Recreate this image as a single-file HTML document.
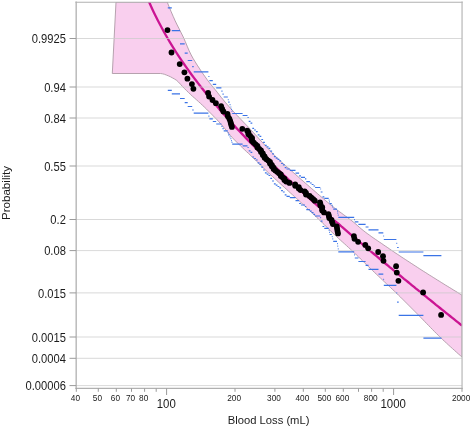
<!DOCTYPE html>
<html><head><meta charset="utf-8"><title>Blood Loss Probability Plot</title>
<style>
html,body{margin:0;padding:0;background:#fff}
body{width:472px;height:428px;overflow:hidden}
.t{font-family:"Liberation Sans",sans-serif;fill:#1c1c1c}
</style></head><body>
<svg width="472" height="428" viewBox="0 0 472 428" style="display:block">
<rect width="472" height="428" fill="#fff"/>
<defs><clipPath id="c"><rect x="76" y="2" width="386" height="386.5"/></clipPath></defs>
<g clip-path="url(#c)">
<path d="M116.0,2.0 L112.3,73.5 L160.5,73.5 L162.5,73.8 L164.5,74.3 L166.5,75.1 L168.5,75.9 L170.5,76.8 L172.5,77.9 L174.5,79.0 L176.5,80.3 L178.5,82.1 L180.5,84.3 L182.5,86.5 L184.5,88.6 L186.5,90.6 L188.5,92.5 L190.5,94.4 L192.5,96.3 L194.5,98.0 L196.5,99.8 L198.5,101.6 L200.5,103.4 L202.5,105.3 L204.5,107.2 L206.5,109.1 L208.5,111.1 L210.5,113.1 L212.5,115.1 L214.5,117.2 L216.5,119.2 L218.5,121.4 L220.5,123.6 L222.5,125.9 L224.5,128.3 L226.5,130.7 L228.5,133.2 L230.5,135.5 L232.5,137.8 L234.5,139.9 L236.5,141.9 L238.5,143.9 L240.5,145.9 L242.5,147.8 L244.5,149.7 L246.5,151.6 L248.5,153.4 L250.5,155.3 L252.5,157.3 L254.5,159.2 L256.5,161.2 L258.5,163.1 L260.5,165.1 L262.5,167.0 L264.5,169.0 L266.5,170.9 L268.5,172.8 L270.5,174.7 L272.5,176.5 L274.5,178.4 L276.5,180.2 L278.5,182.1 L280.5,183.9 L282.5,185.7 L284.5,187.5 L286.5,189.3 L288.5,191.2 L290.5,193.0 L292.5,194.8 L294.5,196.6 L296.5,198.4 L298.5,200.2 L300.5,202.1 L302.5,203.9 L304.5,205.8 L306.5,207.7 L308.5,209.6 L310.5,211.5 L312.5,213.3 L314.5,215.2 L316.5,217.2 L318.5,219.1 L320.5,221.0 L322.5,223.0 L324.5,224.9 L326.5,226.9 L328.5,228.9 L330.5,230.8 L332.5,232.7 L334.5,234.6 L336.5,236.5 L338.5,238.4 L340.5,240.2 L342.5,242.0 L344.5,243.8 L346.5,245.6 L348.5,247.5 L350.5,249.3 L352.5,251.2 L354.5,253.0 L356.5,255.0 L358.5,256.9 L360.5,258.9 L362.5,260.8 L364.5,262.8 L366.5,264.7 L368.5,266.6 L370.5,268.6 L372.5,270.5 L374.5,272.4 L376.5,274.3 L378.5,276.2 L380.5,278.1 L382.5,280.0 L384.5,281.9 L386.5,283.8 L388.5,285.6 L390.5,287.5 L392.5,289.4 L394.5,291.3 L396.5,293.2 L398.5,295.2 L400.5,297.1 L402.5,299.1 L404.5,301.1 L406.5,303.1 L408.5,305.1 L410.5,307.1 L412.5,309.1 L414.5,311.1 L416.5,313.1 L418.5,315.1 L420.5,317.2 L422.5,319.2 L424.5,321.3 L426.5,323.4 L428.5,325.4 L430.5,327.5 L432.5,329.5 L434.5,331.6 L436.5,333.6 L438.5,335.5 L440.5,337.5 L442.5,339.4 L444.5,341.3 L446.5,343.1 L448.5,345.0 L450.5,346.8 L452.5,348.6 L454.5,350.4 L456.5,352.2 L458.5,354.0 L460.5,355.7 L462.0,357.0 L462.0,357.0 L462.0,295.2 L461.2,294.7 L459.2,293.5 L457.2,292.2 L455.2,291.0 L453.2,289.8 L451.2,288.5 L449.2,287.3 L447.2,286.1 L445.2,284.9 L443.2,283.6 L441.2,282.4 L439.2,281.1 L437.2,279.9 L435.2,278.6 L433.2,277.4 L431.2,276.1 L429.2,274.9 L427.2,273.6 L425.2,272.3 L423.2,271.1 L421.2,269.8 L419.2,268.5 L417.2,267.2 L415.2,265.9 L413.2,264.6 L411.2,263.3 L409.2,262.0 L407.2,260.7 L405.2,259.4 L403.2,258.1 L401.2,256.8 L399.2,255.4 L397.2,254.1 L395.2,252.8 L393.2,251.4 L391.2,250.1 L389.2,248.7 L387.2,247.3 L385.2,246.0 L383.2,244.6 L381.2,243.2 L379.2,241.9 L377.2,240.5 L375.2,239.2 L373.2,237.8 L371.2,236.4 L369.2,234.9 L367.2,233.5 L365.2,232.0 L363.2,230.4 L361.2,228.8 L359.2,227.1 L357.2,225.3 L355.2,223.5 L353.2,221.9 L351.2,220.3 L349.2,218.8 L347.2,217.3 L345.2,215.9 L343.2,214.4 L341.2,212.9 L339.2,211.5 L337.2,210.0 L335.2,208.5 L333.2,206.9 L331.2,205.3 L329.2,203.6 L327.2,201.9 L325.2,200.3 L323.2,198.5 L321.2,196.8 L319.2,195.1 L317.2,193.4 L315.2,191.6 L313.2,189.9 L311.2,188.2 L309.2,186.4 L307.2,184.7 L305.2,183.0 L303.2,181.2 L301.2,179.5 L299.2,177.7 L297.2,175.9 L295.2,174.2 L293.2,172.4 L291.2,170.6 L289.2,168.8 L287.2,167.1 L285.2,165.3 L283.2,163.5 L281.2,161.7 L279.2,159.8 L277.2,158.0 L275.2,156.0 L273.2,154.0 L271.2,151.9 L269.2,149.8 L267.2,147.7 L265.2,145.5 L263.2,143.3 L261.2,141.1 L259.2,138.9 L257.2,136.7 L255.2,134.5 L253.2,132.3 L251.2,130.2 L249.2,128.0 L247.2,125.9 L245.2,123.9 L243.2,121.8 L241.2,119.7 L239.2,117.6 L237.2,115.5 L235.2,113.4 L233.2,111.2 L231.2,109.1 L229.2,106.8 L227.2,104.5 L225.2,102.2 L223.2,99.7 L221.2,97.3 L219.2,94.8 L217.2,92.2 L215.2,89.7 L213.2,87.3 L211.2,84.9 L209.2,82.3 L207.2,79.7 L205.2,76.9 L203.2,74.1 L201.2,71.2 L199.2,68.1 L197.2,65.1 L195.2,61.9 L193.2,58.6 L191.2,55.0 L189.2,50.9 L187.2,46.2 L185.2,41.4 L183.2,36.9 L181.2,32.9 L179.2,28.9 L177.2,25.0 L175.2,20.9 L173.2,16.4 L171.2,11.8 L169.2,7.0 L167.2,2.0Z" fill="#f9cfee" stroke="#ae9aa6" stroke-width="0.9"/>
<path d="M148.0,-0.5 L150.0,4.0 L152.0,8.4 L154.0,12.7 L156.0,16.8 L158.0,20.7 L160.0,24.6 L162.0,28.3 L164.0,32.0 L166.0,35.5 L168.0,39.0 L170.0,42.3 L172.0,45.6 L174.0,48.8 L176.0,52.0 L178.0,55.1 L180.0,58.1 L182.0,61.1 L184.0,64.0 L186.0,66.9 L188.0,69.7 L190.0,72.5 L192.0,75.2 L194.0,77.9 L196.0,80.5 L198.0,83.1 L200.0,85.7 L202.0,88.3 L204.0,90.8 L206.0,93.3 L208.0,95.7 L210.0,98.1 L212.0,100.5 L214.0,102.9 L216.0,105.3 L218.0,107.6 L220.0,109.9 L222.0,112.2 L224.0,114.4 L226.0,116.7 L228.0,118.9 L230.0,121.1 L232.0,123.3 L234.0,125.4 L236.0,127.6 L238.0,129.7 L240.0,131.8 L242.0,133.9 L244.0,136.0 L246.0,138.1 L248.0,140.1 L250.0,142.2 L252.0,144.2 L254.0,146.2 L256.0,148.2 L258.0,150.2 L260.0,152.2 L262.0,154.2 L264.0,156.2 L266.0,158.1 L268.0,160.1 L270.0,162.0 L272.0,163.9 L274.0,165.8 L276.0,167.7 L278.0,169.6 L280.0,171.5 L282.0,173.4 L284.0,175.3 L286.0,177.1 L288.0,179.0 L290.0,180.8 L292.0,182.7 L294.0,184.5 L296.0,186.4 L298.0,188.2 L300.0,190.0 L302.0,191.8 L304.0,193.6 L306.0,195.4 L308.0,197.2 L310.0,199.0 L312.0,200.8 L314.0,202.6 L316.0,204.3 L318.0,206.1 L320.0,207.9 L322.0,209.6 L324.0,211.4 L326.0,213.1 L328.0,214.9 L330.0,216.6 L332.0,218.3 L334.0,220.1 L336.0,221.8 L338.0,223.5 L340.0,225.2 L342.0,227.0 L344.0,228.7 L346.0,230.4 L348.0,232.1 L350.0,233.8 L352.0,235.5 L354.0,237.2 L356.0,238.9 L358.0,240.6 L360.0,242.3 L362.0,243.9 L364.0,245.6 L366.0,247.3 L368.0,249.0 L370.0,250.7 L372.0,252.3 L374.0,254.0 L376.0,255.7 L378.0,257.3 L380.0,259.0 L382.0,260.6 L384.0,262.3 L386.0,264.0 L388.0,265.6 L390.0,267.3 L392.0,268.9 L394.0,270.6 L396.0,272.2 L398.0,273.8 L400.0,275.5 L402.0,277.1 L404.0,278.8 L406.0,280.4 L408.0,282.0 L410.0,283.7 L412.0,285.3 L414.0,286.9 L416.0,288.6 L418.0,290.2 L420.0,291.8 L422.0,293.4 L424.0,295.1 L426.0,296.7 L428.0,298.3 L430.0,299.9 L432.0,301.5 L434.0,303.1 L436.0,304.8 L438.0,306.4 L440.0,308.0 L442.0,309.6 L444.0,311.2 L446.0,312.8 L448.0,314.4 L450.0,316.0 L452.0,317.6 L454.0,319.2 L456.0,320.8 L458.0,322.4 L460.0,324.0 L462.0,325.6" fill="none" stroke="#cb1593" stroke-width="2.3"/>
<line x1="76.0" x2="462.0" y1="38.5" y2="38.5" stroke="#cbcbcb" stroke-opacity="0.72" stroke-width="1"/>
<line x1="76.0" x2="462.0" y1="87.0" y2="87.0" stroke="#cbcbcb" stroke-opacity="0.72" stroke-width="1"/>
<line x1="76.0" x2="462.0" y1="118.0" y2="118.0" stroke="#cbcbcb" stroke-opacity="0.72" stroke-width="1"/>
<line x1="76.0" x2="462.0" y1="166.0" y2="166.0" stroke="#cbcbcb" stroke-opacity="0.72" stroke-width="1"/>
<line x1="76.0" x2="462.0" y1="219.5" y2="219.5" stroke="#cbcbcb" stroke-opacity="0.72" stroke-width="1"/>
<line x1="76.0" x2="462.0" y1="250.6" y2="250.6" stroke="#cbcbcb" stroke-opacity="0.72" stroke-width="1"/>
<line x1="76.0" x2="462.0" y1="292.9" y2="292.9" stroke="#cbcbcb" stroke-opacity="0.72" stroke-width="1"/>
<line x1="76.0" x2="462.0" y1="337.0" y2="337.0" stroke="#cbcbcb" stroke-opacity="0.72" stroke-width="1"/>
<line x1="76.0" x2="462.0" y1="358.3" y2="358.3" stroke="#cbcbcb" stroke-opacity="0.72" stroke-width="1"/>
<line x1="76.0" x2="462.0" y1="385.6" y2="385.6" stroke="#cbcbcb" stroke-opacity="0.72" stroke-width="1"/>
<path d="M167.8,7.8H171.8M167.8,90.4H171.8M171.8,30.6H180.0M171.8,93.9H180.0M180.0,43.8H184.7M180.0,98.5H184.7M184.7,53.1H187.7M184.7,102.7H187.7M187.7,60.5H192.2M187.7,106.5H192.2M192.2,66.6H193.7M192.2,110.0H193.7M193.7,71.9H208.4M193.7,113.2H208.4M208.4,76.5H209.4M208.4,116.1H209.4M209.4,80.7H212.8M209.4,118.9H212.8M212.8,84.4H216.2M212.8,121.5H216.2M216.2,87.9H221.4M216.2,124.0H221.4M221.4,91.2H222.5M221.4,126.4H222.5M222.5,94.2H223.7M222.5,128.6H223.7M223.7,97.0H227.8M223.7,130.8H227.8M227.8,99.7H228.6M227.8,132.9H228.6M228.2,102.2H229.6M228.2,134.9H229.6M229.6,104.7H230.5M229.6,136.8H230.5M230.5,107.0H231.3M230.5,138.7H231.3M231.1,109.3H231.9M231.1,140.6H231.9M231.6,111.4H232.4M231.6,142.3H232.4M232.2,113.5H242.6M232.2,144.1H242.6M242.6,115.5H247.5M242.6,145.8H247.5M247.5,117.5H248.7M247.5,147.5H248.7M248.7,121.3H250.5M248.7,150.8H250.5M250.5,123.1H252.3M250.5,152.3H252.3M252.3,128.3H254.1M252.3,157.0H254.1M254.1,130.0H255.9M254.1,158.5H255.9M255.9,131.6H257.7M255.9,160.0H257.7M257.7,134.8H259.5M257.7,162.9H259.5M259.5,136.4H261.3M259.5,164.3H261.3M261.3,139.5H263.1M261.3,167.2H263.1M263.1,142.4H264.9M263.1,170.0H264.9M264.9,145.4H266.7M264.9,172.8H266.7M266.7,146.8H268.5M266.7,174.2H268.5M268.5,148.3H270.3M268.5,175.5H270.3M270.3,151.1H272.1M270.3,178.3H272.1M272.1,153.9H273.9M272.1,181.0H273.9M273.9,156.7H275.7M273.9,183.8H275.7M275.7,158.1H277.5M275.7,185.1H277.5M277.5,159.4H279.3M277.5,186.5H279.3M279.3,160.8H281.1M279.3,187.9H281.1M281.1,163.5H282.9M281.1,190.7H282.9M282.9,164.9H284.7M282.9,192.0H284.7M284.7,167.6H286.5M284.7,194.8H286.5M286.5,169.0H289.8M286.5,196.3H289.8M289.8,170.4H295.5M289.8,197.7H295.5M295.5,173.2H299.1M295.5,200.6H299.1M299.1,175.9H300.9M299.1,203.5H300.9M300.9,177.3H305.0M300.9,205.0H305.0M305.0,178.8H306.3M305.0,206.5H306.3M306.3,181.6H309.9M306.3,209.6H309.9M309.9,183.0H311.7M309.9,211.1H311.7M311.7,184.5H313.5M311.7,212.7H313.5M313.5,186.0H315.1M313.5,214.3H315.1M315.1,187.5H320.3M315.1,216.0H320.3M320.3,189.0H321.1M320.3,217.6H321.1M320.7,192.0H322.5M320.7,221.1H322.5M322.5,196.8H324.3M322.5,226.5H324.3M324.3,198.4H328.7M324.3,228.4H328.7M328.7,200.1H329.5M328.7,230.4H329.5M329.2,201.8H330.0M329.2,232.4H330.0M329.6,203.6H331.8M329.6,234.5H331.8M331.8,205.4H332.6M331.8,236.7H332.6M332.4,207.2H333.2M332.4,238.9H333.2M333.2,209.1H337.0M333.2,241.3H337.0M337.0,211.1H337.8M337.0,243.7H337.8M337.4,213.1H338.2M337.4,246.2H338.2M337.8,215.2H338.6M337.8,248.9H338.6M338.3,217.3H354.2M338.3,251.8H354.2M354.2,219.6H355.0M354.2,254.8H355.0M354.8,221.9H358.4M354.8,258.0H358.4M358.4,224.4H365.6M358.4,261.5H365.6M365.6,227.0H368.5M365.6,265.3H368.5M368.5,229.8H378.5M368.5,269.4H378.5M378.5,232.8H383.3M378.5,274.1H383.3M383.3,236.0H384.1M383.3,279.3H384.1M383.8,239.5H396.4M383.8,285.4H396.4M396.4,243.3H397.2M396.4,292.8H397.2M397.1,247.5H398.7M397.1,302.2H398.7M398.7,252.0H423.4M398.7,315.3H423.4M423.4,255.6H441.4M423.4,338.1H441.4" fill="none" stroke="#3a73e6" stroke-width="1.2"/>
<circle cx="167.5" cy="30.1" r="2.9" fill="#000"/>
<circle cx="171.5" cy="52.5" r="2.9" fill="#000"/>
<circle cx="179.7" cy="64.1" r="2.9" fill="#000"/>
<circle cx="184.4" cy="72.3" r="2.9" fill="#000"/>
<circle cx="187.4" cy="78.7" r="2.9" fill="#000"/>
<circle cx="191.9" cy="84.1" r="2.9" fill="#000"/>
<circle cx="193.4" cy="88.8" r="2.9" fill="#000"/>
<circle cx="208.1" cy="92.9" r="2.9" fill="#000"/>
<circle cx="209.1" cy="96.6" r="2.9" fill="#000"/>
<circle cx="212.5" cy="100.0" r="2.9" fill="#000"/>
<circle cx="215.9" cy="103.2" r="2.9" fill="#000"/>
<circle cx="221.1" cy="106.1" r="2.9" fill="#000"/>
<circle cx="222.2" cy="108.9" r="2.9" fill="#000"/>
<circle cx="223.4" cy="111.5" r="2.9" fill="#000"/>
<circle cx="227.5" cy="114.0" r="2.9" fill="#000"/>
<circle cx="227.9" cy="116.3" r="2.9" fill="#000"/>
<circle cx="229.3" cy="118.6" r="2.9" fill="#000"/>
<circle cx="230.2" cy="120.8" r="2.9" fill="#000"/>
<circle cx="230.8" cy="122.9" r="2.9" fill="#000"/>
<circle cx="231.3" cy="125.0" r="2.9" fill="#000"/>
<circle cx="231.9" cy="126.9" r="2.9" fill="#000"/>
<circle cx="242.3" cy="128.8" r="2.9" fill="#000"/>
<circle cx="247.2" cy="130.7" r="2.9" fill="#000"/>
<circle cx="248.4" cy="132.5" r="2.9" fill="#000"/>
<circle cx="248.4" cy="134.3" r="2.9" fill="#000"/>
<circle cx="250.2" cy="136.0" r="2.9" fill="#000"/>
<circle cx="252.0" cy="137.8" r="2.9" fill="#000"/>
<circle cx="252.0" cy="139.4" r="2.9" fill="#000"/>
<circle cx="252.0" cy="141.1" r="2.9" fill="#000"/>
<circle cx="253.8" cy="142.7" r="2.9" fill="#000"/>
<circle cx="255.6" cy="144.3" r="2.9" fill="#000"/>
<circle cx="257.4" cy="145.8" r="2.9" fill="#000"/>
<circle cx="257.4" cy="147.4" r="2.9" fill="#000"/>
<circle cx="259.2" cy="148.9" r="2.9" fill="#000"/>
<circle cx="261.0" cy="150.4" r="2.9" fill="#000"/>
<circle cx="261.0" cy="151.9" r="2.9" fill="#000"/>
<circle cx="262.8" cy="153.4" r="2.9" fill="#000"/>
<circle cx="262.8" cy="154.9" r="2.9" fill="#000"/>
<circle cx="264.6" cy="156.3" r="2.9" fill="#000"/>
<circle cx="264.6" cy="157.7" r="2.9" fill="#000"/>
<circle cx="266.4" cy="159.2" r="2.9" fill="#000"/>
<circle cx="268.2" cy="160.6" r="2.9" fill="#000"/>
<circle cx="270.0" cy="162.0" r="2.9" fill="#000"/>
<circle cx="270.0" cy="163.4" r="2.9" fill="#000"/>
<circle cx="271.8" cy="164.8" r="2.9" fill="#000"/>
<circle cx="271.8" cy="166.2" r="2.9" fill="#000"/>
<circle cx="273.6" cy="167.6" r="2.9" fill="#000"/>
<circle cx="273.6" cy="169.0" r="2.9" fill="#000"/>
<circle cx="275.4" cy="170.4" r="2.9" fill="#000"/>
<circle cx="277.2" cy="171.8" r="2.9" fill="#000"/>
<circle cx="279.0" cy="173.2" r="2.9" fill="#000"/>
<circle cx="280.8" cy="174.5" r="2.9" fill="#000"/>
<circle cx="280.8" cy="175.9" r="2.9" fill="#000"/>
<circle cx="282.6" cy="177.3" r="2.9" fill="#000"/>
<circle cx="284.4" cy="178.7" r="2.9" fill="#000"/>
<circle cx="284.4" cy="180.1" r="2.9" fill="#000"/>
<circle cx="286.2" cy="181.5" r="2.9" fill="#000"/>
<circle cx="289.5" cy="182.9" r="2.9" fill="#000"/>
<circle cx="295.2" cy="184.3" r="2.9" fill="#000"/>
<circle cx="295.2" cy="185.8" r="2.9" fill="#000"/>
<circle cx="298.8" cy="187.2" r="2.9" fill="#000"/>
<circle cx="298.8" cy="188.6" r="2.9" fill="#000"/>
<circle cx="300.6" cy="190.1" r="2.9" fill="#000"/>
<circle cx="304.7" cy="191.5" r="2.9" fill="#000"/>
<circle cx="306.0" cy="193.0" r="2.9" fill="#000"/>
<circle cx="306.0" cy="194.5" r="2.9" fill="#000"/>
<circle cx="309.6" cy="196.0" r="2.9" fill="#000"/>
<circle cx="311.4" cy="197.6" r="2.9" fill="#000"/>
<circle cx="313.2" cy="199.1" r="2.9" fill="#000"/>
<circle cx="314.8" cy="200.7" r="2.9" fill="#000"/>
<circle cx="320.0" cy="202.3" r="2.9" fill="#000"/>
<circle cx="320.4" cy="203.9" r="2.9" fill="#000"/>
<circle cx="320.4" cy="205.5" r="2.9" fill="#000"/>
<circle cx="322.2" cy="207.2" r="2.9" fill="#000"/>
<circle cx="322.2" cy="208.9" r="2.9" fill="#000"/>
<circle cx="322.2" cy="210.6" r="2.9" fill="#000"/>
<circle cx="324.0" cy="212.4" r="2.9" fill="#000"/>
<circle cx="328.4" cy="214.2" r="2.9" fill="#000"/>
<circle cx="328.9" cy="216.1" r="2.9" fill="#000"/>
<circle cx="329.3" cy="218.0" r="2.9" fill="#000"/>
<circle cx="331.5" cy="220.0" r="2.9" fill="#000"/>
<circle cx="332.1" cy="222.0" r="2.9" fill="#000"/>
<circle cx="332.9" cy="224.1" r="2.9" fill="#000"/>
<circle cx="336.7" cy="226.3" r="2.9" fill="#000"/>
<circle cx="337.1" cy="228.6" r="2.9" fill="#000"/>
<circle cx="337.5" cy="231.0" r="2.9" fill="#000"/>
<circle cx="338.0" cy="233.4" r="2.9" fill="#000"/>
<circle cx="353.9" cy="236.1" r="2.9" fill="#000"/>
<circle cx="354.5" cy="238.8" r="2.9" fill="#000"/>
<circle cx="358.1" cy="241.8" r="2.9" fill="#000"/>
<circle cx="365.3" cy="244.9" r="2.9" fill="#000"/>
<circle cx="368.2" cy="248.3" r="2.9" fill="#000"/>
<circle cx="378.2" cy="252.0" r="2.9" fill="#000"/>
<circle cx="383.0" cy="256.2" r="2.9" fill="#000"/>
<circle cx="383.5" cy="260.8" r="2.9" fill="#000"/>
<circle cx="396.1" cy="266.2" r="2.9" fill="#000"/>
<circle cx="396.8" cy="272.6" r="2.9" fill="#000"/>
<circle cx="398.4" cy="280.8" r="2.9" fill="#000"/>
<circle cx="423.1" cy="292.4" r="2.9" fill="#000"/>
<circle cx="441.1" cy="314.9" r="2.9" fill="#000"/>
</g>
<line x1="76.15" x2="76.15" y1="1.6" y2="389" stroke="#a6a6a6" stroke-width="1.15"/>
<line x1="75.4" x2="462.7" y1="2.2" y2="2.2" stroke="#b0b0b0" stroke-width="1.1"/>
<line x1="462.05" x2="462.05" y1="1.6" y2="389" stroke="#b6b6b6" stroke-width="1.2"/>
<line x1="75.4" x2="462.7" y1="388.3" y2="388.3" stroke="#b0b0b0" stroke-width="1.2"/>
<line x1="69.5" x2="76.0" y1="38.5" y2="38.5" stroke="#9a9a9a" stroke-width="1"/>
<text transform="translate(65.9,43.3) scale(0.91,1)" text-anchor="end" font-size="12.3" class="t">0.9925</text>
<line x1="69.5" x2="76.0" y1="87.0" y2="87.0" stroke="#9a9a9a" stroke-width="1"/>
<text transform="translate(65.9,91.8) scale(0.91,1)" text-anchor="end" font-size="12.3" class="t">0.94</text>
<line x1="69.5" x2="76.0" y1="118.0" y2="118.0" stroke="#9a9a9a" stroke-width="1"/>
<text transform="translate(65.9,122.8) scale(0.91,1)" text-anchor="end" font-size="12.3" class="t">0.84</text>
<line x1="69.5" x2="76.0" y1="166.0" y2="166.0" stroke="#9a9a9a" stroke-width="1"/>
<text transform="translate(65.9,170.8) scale(0.91,1)" text-anchor="end" font-size="12.3" class="t">0.55</text>
<line x1="69.5" x2="76.0" y1="219.5" y2="219.5" stroke="#9a9a9a" stroke-width="1"/>
<text transform="translate(65.9,224.3) scale(0.91,1)" text-anchor="end" font-size="12.3" class="t">0.2</text>
<line x1="69.5" x2="76.0" y1="250.6" y2="250.6" stroke="#9a9a9a" stroke-width="1"/>
<text transform="translate(65.9,255.4) scale(0.91,1)" text-anchor="end" font-size="12.3" class="t">0.08</text>
<line x1="69.5" x2="76.0" y1="292.9" y2="292.9" stroke="#9a9a9a" stroke-width="1"/>
<text transform="translate(65.9,297.7) scale(0.91,1)" text-anchor="end" font-size="12.3" class="t">0.015</text>
<line x1="69.5" x2="76.0" y1="337.0" y2="337.0" stroke="#9a9a9a" stroke-width="1"/>
<text transform="translate(65.9,341.8) scale(0.91,1)" text-anchor="end" font-size="12.3" class="t">0.0015</text>
<line x1="69.5" x2="76.0" y1="358.3" y2="358.3" stroke="#9a9a9a" stroke-width="1"/>
<text transform="translate(65.9,363.1) scale(0.91,1)" text-anchor="end" font-size="12.3" class="t">0.0004</text>
<line x1="69.5" x2="76.0" y1="385.6" y2="385.6" stroke="#9a9a9a" stroke-width="1"/>
<text transform="translate(65.9,390.4) scale(0.91,1)" text-anchor="end" font-size="12.3" class="t">0.00006</text>
<line x1="76.3" x2="76.3" y1="388.5" y2="391.8" stroke="#9a9a9a" stroke-width="1"/>
<text transform="translate(75.4,401.4) scale(0.93,1)" text-anchor="middle" font-size="8.9" class="t">40</text>
<line x1="98.3" x2="98.3" y1="388.5" y2="391.8" stroke="#9a9a9a" stroke-width="1"/>
<text transform="translate(97.4,401.4) scale(0.93,1)" text-anchor="middle" font-size="8.9" class="t">50</text>
<line x1="116.3" x2="116.3" y1="388.5" y2="391.8" stroke="#9a9a9a" stroke-width="1"/>
<text transform="translate(115.4,401.4) scale(0.93,1)" text-anchor="middle" font-size="8.9" class="t">60</text>
<line x1="131.5" x2="131.5" y1="388.5" y2="391.8" stroke="#9a9a9a" stroke-width="1"/>
<text transform="translate(130.6,401.4) scale(0.93,1)" text-anchor="middle" font-size="8.9" class="t">70</text>
<line x1="144.6" x2="144.6" y1="388.5" y2="391.8" stroke="#9a9a9a" stroke-width="1"/>
<text transform="translate(143.7,401.4) scale(0.93,1)" text-anchor="middle" font-size="8.9" class="t">80</text>
<line x1="156.2" x2="156.2" y1="388.5" y2="391.8" stroke="#9a9a9a" stroke-width="1"/>
<line x1="235.0" x2="235.0" y1="388.5" y2="391.8" stroke="#9a9a9a" stroke-width="1"/>
<text transform="translate(234.1,401.4) scale(0.93,1)" text-anchor="middle" font-size="8.9" class="t">200</text>
<line x1="274.9" x2="274.9" y1="388.5" y2="391.8" stroke="#9a9a9a" stroke-width="1"/>
<text transform="translate(274.0,401.4) scale(0.93,1)" text-anchor="middle" font-size="8.9" class="t">300</text>
<line x1="303.3" x2="303.3" y1="388.5" y2="391.8" stroke="#9a9a9a" stroke-width="1"/>
<text transform="translate(302.4,401.4) scale(0.93,1)" text-anchor="middle" font-size="8.9" class="t">400</text>
<line x1="325.3" x2="325.3" y1="388.5" y2="391.8" stroke="#9a9a9a" stroke-width="1"/>
<text transform="translate(324.4,401.4) scale(0.93,1)" text-anchor="middle" font-size="8.9" class="t">500</text>
<line x1="343.3" x2="343.3" y1="388.5" y2="391.8" stroke="#9a9a9a" stroke-width="1"/>
<text transform="translate(342.4,401.4) scale(0.93,1)" text-anchor="middle" font-size="8.9" class="t">600</text>
<line x1="358.5" x2="358.5" y1="388.5" y2="391.8" stroke="#9a9a9a" stroke-width="1"/>
<line x1="371.6" x2="371.6" y1="388.5" y2="391.8" stroke="#9a9a9a" stroke-width="1"/>
<text transform="translate(370.7,401.4) scale(0.93,1)" text-anchor="middle" font-size="8.9" class="t">800</text>
<line x1="383.2" x2="383.2" y1="388.5" y2="391.8" stroke="#9a9a9a" stroke-width="1"/>
<line x1="462.0" x2="462.0" y1="388.5" y2="391.8" stroke="#9a9a9a" stroke-width="1"/>
<text transform="translate(461.1,401.4) scale(0.93,1)" text-anchor="middle" font-size="8.9" class="t">2000</text>
<line x1="166.6" x2="166.6" y1="388.5" y2="395" stroke="#9a9a9a" stroke-width="1"/>
<text transform="translate(166.2,407.8) scale(0.93,1)" text-anchor="middle" font-size="12.3" class="t">100</text>
<line x1="393.6" x2="393.6" y1="388.5" y2="395" stroke="#9a9a9a" stroke-width="1"/>
<text transform="translate(393.2,407.8) scale(0.93,1)" text-anchor="middle" font-size="12.3" class="t">1000</text>
<text transform="translate(268.6,424.0) scale(0.96,1)" text-anchor="middle" font-size="11.7" class="t">Blood Loss (mL)</text>
<text transform="translate(9.6,193)  rotate(-90)" text-anchor="middle" font-size="11.6" class="t">Probability</text>
</svg>
</body></html>
